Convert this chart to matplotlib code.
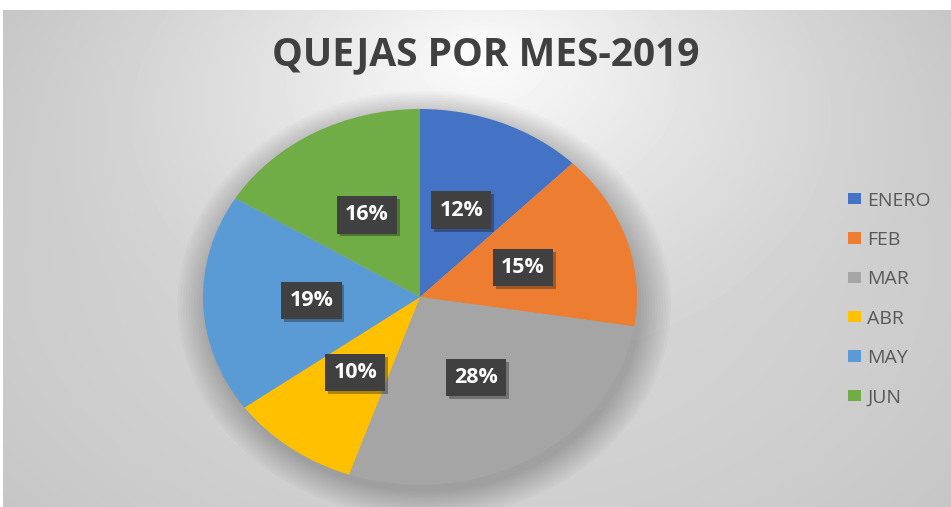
'''Quejas por mes 2019 - pie chart.'''
import numpy as np
import matplotlib as mpl
mpl.use('Agg')
import matplotlib.pyplot as plt
from matplotlib.patches import Ellipse
from matplotlib import patheffects as pe

# data (share of complaints per month, %)
months = ['ENERO', 'FEB', 'MAR', 'ABR', 'MAY', 'JUN']
shares = [12.4, 15.1, 27.8, 9.7, 18.8, 16.2]
colors = ['#4472c4', '#ed7d31', '#a5a5a5', '#ffc000', '#5b9bd5', '#70ad47']
title = 'QUEJAS POR MES-2019'

plt.rcParams['font.family'] = ['Open Sans', 'DejaVu Sans']

W, H = 951, 507
fig = plt.figure(figsize=(W / 100, H / 100), dpi=100)
fig.patch.set_facecolor('white')

# chart area background: gray with a white glow behind the title
bg = fig.add_axes([3 / W, 0, (W - 3) / W, (H - 10) / H])
bg.set_axis_off()
yy, xx = np.mgrid[0:497, 0:948]
r = np.sqrt(((xx - 480) / 520.0) ** 2 + ((yy - 45) / 330.0) ** 2)
glow = (1 - np.clip(r, 0, 1)) ** 1.6
r2 = np.sqrt(((xx - 474) / 600.0) ** 2 + ((yy - 250) / 400.0) ** 2)
shade = 0.835 - 0.06 * np.clip(r2, 0, 1.2) ** 2 + 0.17 * glow
bg.imshow(np.clip(shade, 0, 1), cmap='gray', vmin=0, vmax=1, aspect='auto',
          interpolation='bilinear')

# pie axes, stretched so the pie is a bit wider than tall (as in the image)
cx, cy, rx, ry = 420, 297, 217, 188
k = 1.2
ax = fig.add_axes([(cx - rx * k) / W, (H - cy - ry * k) / H,
                   2 * rx * k / W, 2 * ry * k / H])
ax.set_axis_off()

# soft shadow under the pie
for i in range(12):
    ax.add_patch(Ellipse((0.02, -0.04), 2.0 + i * 0.025, 2.0 + i * 0.025,
                         facecolor='black', edgecolor='none', alpha=0.018,
                         zorder=0))

wedges, _, autotexts = ax.pie(
    shares, colors=colors, startangle=90, counterclock=False,
    autopct=lambda p: f'{p:.0f}%', pctdistance=0.5,
    wedgeprops=dict(linewidth=0, edgecolor='none'),
    textprops=dict(color='white', fontsize=15.5, fontweight='bold'))
ax.set_aspect('auto')
ax.set_xlim(-k, k)
ax.set_ylim(-k, k)

for t in autotexts:
    t.set_bbox(dict(boxstyle='square,pad=0.38', facecolor='#404040',
                    edgecolor='none'))
    t.get_bbox_patch().set_path_effects(
        [pe.SimplePatchShadow(offset=(2, -2), alpha=0.35), pe.Normal()])

fig.text(486 / W, 1 - 55 / H, title, ha='center', va='center',
         fontsize=28, fontweight='bold', color='#404040')

leg = fig.legend(wedges, months, loc='upper left',
                 bbox_to_anchor=(830 / W, 1 - 174 / H), frameon=False,
                 fontsize=14, handlelength=0.67, handleheight=0.52,
                 handletextpad=0.35, labelspacing=1.1, labelcolor='#595959')

fig.savefig('out.png', dpi=100)
